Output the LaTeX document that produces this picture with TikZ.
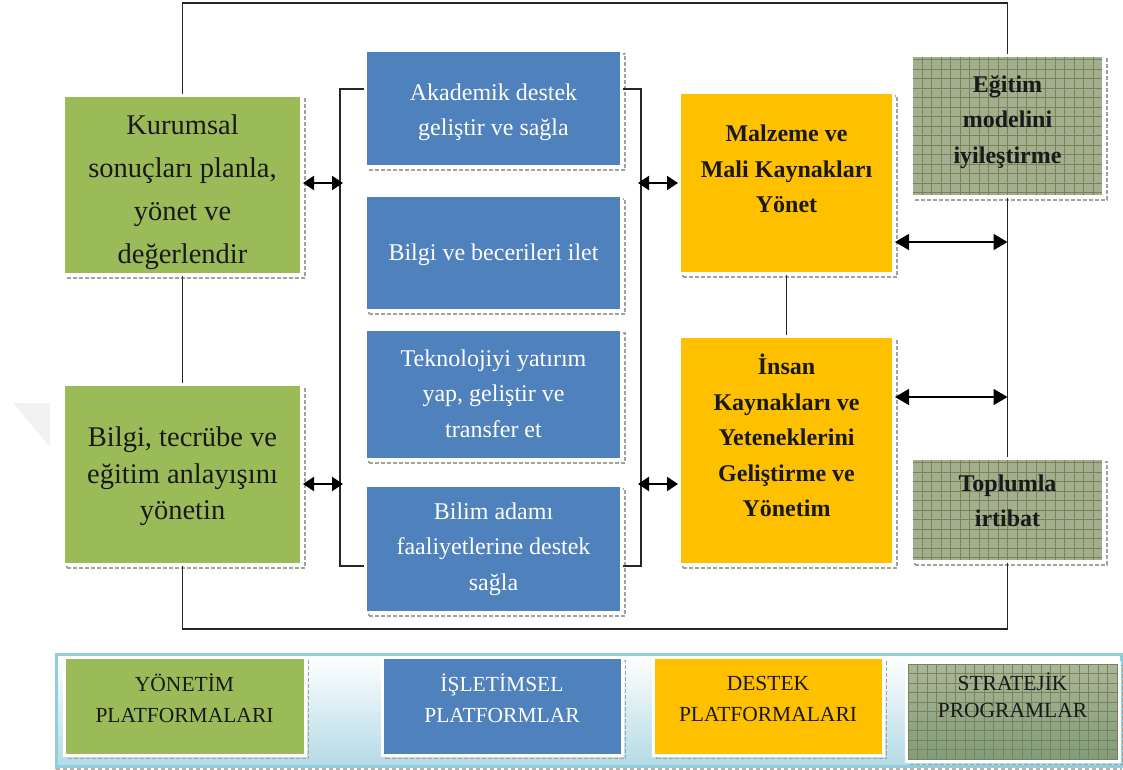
\documentclass[tikz,border=0pt]{standalone}
\usepackage{fontspec}
\setmainfont{Liberation Serif}
\usetikzlibrary{arrows.meta}

\definecolor{grn}{HTML}{9BBB59}
\definecolor{blu}{HTML}{4F81BD}
\definecolor{org}{HTML}{FFC000}
\definecolor{olv}{HTML}{A2AE8D}
\definecolor{olvline}{HTML}{56652F}
\definecolor{olvtop}{HTML}{ABB798}
\definecolor{olvbot}{HTML}{809B7B}
\definecolor{lgbord}{HTML}{93CDDD}
\definecolor{lgfill}{HTML}{B4DBE6}
\definecolor{shd}{HTML}{80867A}

\tikzset{
  box/.style={rectangle, draw=white, line width=3pt, inner sep=0pt, align=center,
    preaction={draw=shd!75, line width=1.6pt, dash pattern=on 4pt off 2pt,
      transform canvas={xshift=3.5pt,yshift=-3.5pt}}},
  gridfill/.style={path picture={
    \draw[olvline!25, line width=0.4pt, dotted]
      ([shift={(4.75pt,4.75pt)}]path picture bounding box.south west) grid[step=9.5pt]
      (path picture bounding box.north east);
    \draw[olvline!80, line width=0.55pt]
      (path picture bounding box.south west) grid[step=9.5pt]
      (path picture bounding box.north east);}},
  gbox/.style={box, fill=grn},
  bbox/.style={box, fill=blu},
  obox/.style={box, fill=org},
  sbox/.style={box, fill=olv, gridfill},
  gtext/.style={font=\fontsize{28.5}{43}\selectfont, align=center, text=black!90},
  btext/.style={font=\fontsize{24}{35.5}\selectfont, align=center, text=white},
  otext/.style={font=\fontsize{24}{35.5}\selectfont\bfseries, align=center, text=black!90},
  ltext/.style={font=\fontsize{21.5}{31}\selectfont, align=center},
  frame/.style={line width=1.5pt, draw=black!85},
  sarrow/.style={{Triangle[length=11pt,width=14pt]}-{Triangle[length=11pt,width=14pt]},
    line width=2pt, draw=black},
  larrow/.style={{Triangle[length=14pt,width=16pt]}-{Triangle[length=14pt,width=16pt]},
    line width=1.6pt, draw=black}
}

\begin{document}
\begin{tikzpicture}[x=1pt,y=-1pt]
\useasboundingbox (0,0) rectangle (1123,769);

% faint corner mark at the left edge
\fill[black!5] (13,403) -- (50,403) -- (50,447) -- cycle;

% management platforms
\node[gbox, minimum width=238, minimum height=179] (g1) at (182.5,185) {};
\node[gtext] (g1t) at ([yshift=-7pt]g1.center)
  {Kurumsal\\sonuçları planla,\\yönet ve\\değerlendir};
\node[gbox, minimum width=238, minimum height=180] (g2) at (182.5,474.5) {};
\node[gtext, font=\fontsize{28.5}{36.5}\selectfont] (g2t) at ([yshift=-2pt]g2.center)
  {Bilgi, tecrübe ve\\eğitim anlayışını\\yönetin};

% operational platforms
\node[bbox, minimum width=256, minimum height=116] (b1) at (493.5,108.5) {};
\node[btext] (b1t) at ([yshift=-4pt]b1.center) {Akademik destek\\geliştir ve sağla};
\node[bbox, minimum width=256, minimum height=115] (b2) at (493.5,253) {};
\node[btext] (b2t) at ([yshift=-2pt]b2.center) {Bilgi ve becerileri ilet};
\node[bbox, minimum width=256, minimum height=130] (b3) at (493.5,394.5) {};
\node[btext] (b3t) at ([yshift=1pt]b3.center) {Teknolojiyi yatırım\\yap, geliştir ve\\transfer et};
\node[bbox, minimum width=256, minimum height=127] (b4) at (493.5,549) {};
\node[btext] (b4t) at (b4.center) {Bilim adamı\\faaliyetlerine destek\\sağla};

% support platforms
\node[obox, minimum width=214, minimum height=181] (o1) at (786.5,183) {};
\node[otext] (o1t) at ([yshift=14pt]o1.center) {Malzeme ve\\Mali Kaynakları\\Yönet};
\node[obox, minimum width=214, minimum height=228] (o2) at (786.5,450.5) {};
\node[otext] (o2t) at ([yshift=15pt]o2.center)
  {İnsan\\Kaynakları ve\\Yeteneklerini\\Geliştirme ve\\Yönetim};

% strategic programmes
\node[sbox, minimum width=192, minimum height=141] (s1) at (1007.5,126) {};
\node[otext] (s1t) at ([yshift=4pt]s1.center) {Eğitim\\modelini\\iyileştirme};
\node[sbox, minimum width=192, minimum height=103] (s2) at (1007.5,510) {};
\node[otext] (s2t) at ([yshift=9pt]s2.center) {Toplumla\\irtibat};

% outer frame and vertical links
\coordinate (ftop) at (0,3);
\coordinate (fbot) at (0,629);
\draw[frame] (g1.north) -- (g1.north |- ftop) -| (s1.north);
\draw[frame] (g2.south) -- (g2.south |- fbot) -| (s2.south);
\draw[frame] (g1.south) -- (g2.north);
\draw[frame] (s1.south) -- (s2.north);
\draw[frame] (o1.south) -- (o2.north);

% brackets around the operational column
\draw[frame] ([yshift=-40pt]b1.north west) -- ++(-24,0) |- ([yshift=48pt]b4.south west);
\draw[frame] ([yshift=-40pt]b1.north east) -- ++(18,0) |- ([yshift=48pt]b4.south east);
\coordinate (brL) at (343,0);
\coordinate (brR) at (638,0);

% two-way arrows
\coordinate (a1) at ([yshift=2pt]g1.east);
\coordinate (a2) at ([yshift=-9.5pt]g2.east);
\coordinate (a3) at (o1.west);
\coordinate (a4) at ([yshift=-33.5pt]o2.west);
\coordinate (a5) at ([yshift=-59pt]o1.east);
\coordinate (a6) at ([yshift=53.5pt]o2.east);
\draw[sarrow] (a1) -- (a1 -| brL);
\draw[sarrow] (a2) -- (a2 -| brL);
\draw[sarrow] (a3 -| brR) -- (a3);
\draw[sarrow] (a4 -| brR) -- (a4);
\draw[larrow] (a5) -- (a5 -| s1.south);
\draw[larrow] (a6) -- (a6 -| s2.north);

% legend
\node[minimum width=1065, minimum height=112, draw=lgbord, line width=3pt,
  top color=white, bottom color=lgfill,
  preaction={draw=shd!60, line width=2pt, dash pattern=on 4pt off 3pt,
    transform canvas={yshift=-3pt}}] (lg) at (588.5,710) {};
\node[gbox, minimum width=241, minimum height=98] (lg1) at (184.5,706) {};
\node[bbox, minimum width=240, minimum height=98] (lg2) at (502,706) {};
\node[obox, minimum width=230, minimum height=98] (lg3) at (768,706) {};
\node[box, top color=olvtop, bottom color=olvbot, gridfill,
  minimum width=213, minimum height=99] (lg4) at (1012.5,711.5) {};
\node[ltext, text=black!90] (lg1t) at (184.5,698.5) {YÖNETİM\\PLATFORMALARI};
\node[ltext, text=white] (lg2t) at (502,698.5) {İŞLETİMSEL\\PLATFORMLAR};
\node[ltext, text=black!90] (lg3t) at (768,698.5) {DESTEK\\PLATFORMALARI};
\node[ltext, text=black!90, font=\fontsize{21.5}{27}\selectfont] (lg4t) at (1012.5,695)
  {STRATEJİK\\PROGRAMLAR};
\end{tikzpicture}
\end{document}
